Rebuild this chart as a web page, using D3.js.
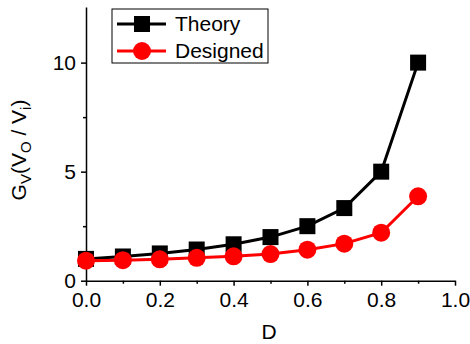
<!DOCTYPE html>
<html>
<head>
<meta charset="utf-8">
<script src="https://cdn.jsdelivr.net/npm/d3@7"></script>
<style>
  body { margin: 0; background: #fff; }
  text { font-family: "Liberation Sans", Arial, sans-serif; }
</style>
</head>
<body>
<div id="chart"></div>
<script>
const dutyCycle = [0.0, 0.1, 0.2, 0.3, 0.4, 0.5, 0.6, 0.7, 0.8, 0.9];
const theory = [1.0, 1.11, 1.25, 1.43, 1.67, 2.0, 2.5, 3.33, 5.0, 10.0];
const designed = [0.92, 0.94, 0.98, 1.05, 1.12, 1.22, 1.42, 1.7, 2.2, 3.87];
const xTicks = [0, 0.2, 0.4, 0.6, 0.8, 1.0];
const xMinor = [0.1, 0.3, 0.5, 0.7, 0.9];
const yTicks = [0, 5, 10];
const yMinor = [2.5, 7.5];

const W = 470, H = 344;
const svg = d3.select("#chart").append("svg")
  .attr("width", W).attr("height", H);

const x = d3.scaleLinear().domain([0, 1]).range([86, 455]);
const y = d3.scaleLinear().domain([0, 12.55]).range([280.7, 7]);

// axes
const xAxis = svg.append("g").attr("transform", `translate(0,${y(0)})`)
  .call(d3.axisBottom(x).tickValues(xTicks).tickFormat(d3.format(".1f")).tickSize(5).tickSizeOuter(0));
svg.append("g").attr("transform", `translate(0,${y(0)})`)
  .call(d3.axisBottom(x).tickValues(xMinor).tickFormat("").tickSize(3).tickSizeOuter(0))
  .select(".domain").remove();
const yAxis = svg.append("g").attr("transform", `translate(${x(0)},0)`)
  .call(d3.axisLeft(y).tickValues(yTicks).tickSize(5).tickSizeOuter(0));
svg.append("g").attr("transform", `translate(${x(0)},0)`)
  .call(d3.axisLeft(y).tickValues(yMinor).tickFormat("").tickSize(3).tickSizeOuter(0))
  .select(".domain").remove();

svg.selectAll(".domain").attr("stroke", "#000").attr("stroke-width", 1.5);
svg.selectAll(".tick line").attr("stroke", "#000").attr("stroke-width", 1.5);
xAxis.selectAll("text").attr("font-size", 21).attr("fill", "#000")
  .attr("font-family", "Liberation Sans, Arial, sans-serif").attr("dy", 0).attr("y", 26.5);
yAxis.selectAll("text").attr("font-size", 21).attr("fill", "#000")
  .attr("font-family", "Liberation Sans, Arial, sans-serif").attr("x", -10).attr("dy", "0.34em");

// axis titles
svg.append("text").attr("x", 269).attr("y", 339).attr("text-anchor", "middle")
  .attr("font-size", 21).text("D");

const yl = svg.append("text")
  .attr("transform", "translate(26,150) rotate(-90)")
  .attr("text-anchor", "middle").attr("font-size", 21);
yl.append("tspan").text("G");
yl.append("tspan").attr("font-size", 15).attr("dy", 5).text("V");
yl.append("tspan").attr("dy", -5).text("(V");
yl.append("tspan").attr("font-size", 15).attr("dy", 5).text("O");
yl.append("tspan").attr("dy", -5).text(" / V");
yl.append("tspan").attr("font-size", 15).attr("dy", 5).text("i");
yl.append("tspan").attr("dy", -5).text(")");

// series
const line = d3.line().x((d, i) => x(dutyCycle[i])).y(d => y(d));

svg.append("path").datum(theory).attr("d", line)
  .attr("fill", "none").attr("stroke", "#000").attr("stroke-width", 3);
svg.append("path").datum(designed).attr("d", line)
  .attr("fill", "none").attr("stroke", "#ff0000").attr("stroke-width", 3);

svg.selectAll(".sq").data(theory).enter().append("rect")
  .attr("x", (d, i) => x(dutyCycle[i]) - 8).attr("y", d => y(d) - 8)
  .attr("width", 16).attr("height", 16).attr("fill", "#000");
svg.selectAll(".ci").data(designed).enter().append("circle")
  .attr("cx", (d, i) => x(dutyCycle[i])).attr("cy", d => y(d))
  .attr("r", 9).attr("fill", "#ff0000");

// legend
const lg = svg.append("g");
lg.append("rect").attr("x", 112).attr("y", 9).attr("width", 156).attr("height", 54)
  .attr("fill", "#fff").attr("stroke", "#000").attr("stroke-width", 1);
const legendItems = [
  { name: "Theory", color: "#000", shape: "square", y: 24 },
  { name: "Designed", color: "#ff0000", shape: "circle", y: 51 }
];
legendItems.forEach(it => {
  lg.append("line").attr("x1", 117).attr("x2", 166).attr("y1", it.y).attr("y2", it.y)
    .attr("stroke", it.color).attr("stroke-width", 3);
  if (it.shape === "square") {
    lg.append("rect").attr("x", 134).attr("y", it.y - 8).attr("width", 16).attr("height", 16).attr("fill", it.color);
  } else {
    lg.append("circle").attr("cx", 142).attr("cy", it.y).attr("r", 9).attr("fill", it.color);
  }
  lg.append("text").attr("x", 175).attr("y", it.y + 7).attr("font-size", 21).text(it.name);
});
</script>
</body>
</html>
